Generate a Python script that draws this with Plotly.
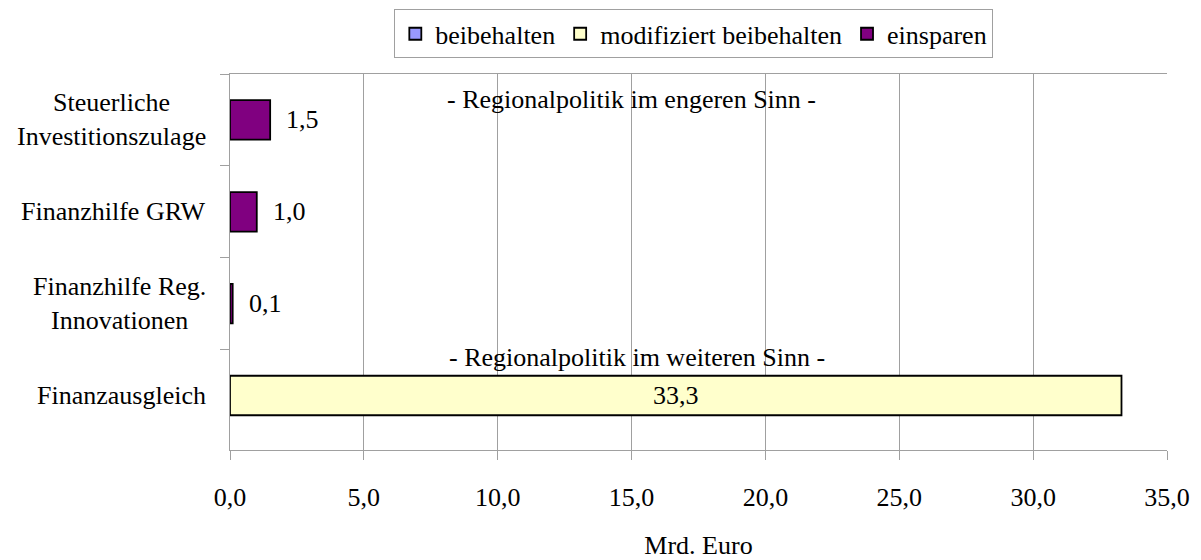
import plotly.graph_objects as go

categories = ["Steuerliche<br>Investitionszulage", "Finanzhilfe GRW",
              "Finanzhilfe Reg.<br>Innovationen", "Finanzausgleich"]
beibehalten = [None, None, None, None]
modifiziert = [None, None, None, 33.3]
einsparen = [1.5, 1.0, 0.1, None]
x_ticks = [0, 5, 10, 15, 20, 25, 30, 35]
section_labels = ["- Regionalpolitik im engeren Sinn -", "- Regionalpolitik im weiteren Sinn -"]

FONT = "Liberation Serif"
FS = 26
GRID = "#a0a0a0"


def fmt(v):
    return f"{v:.1f}".replace(".", ",")


fig = go.Figure()
series = [("beibehalten", beibehalten, "#9999FF"),
          ("modifiziert beibehalten", modifiziert, "#FFFFCC"),
          ("einsparen", einsparen, "#800080")]
for name, vals, col in series:
    fig.add_trace(go.Bar(
        y=categories, x=vals, name=name, orientation="h", width=0.43,
        marker=dict(color=col, line=dict(color="black", width=1.8)),
        hoverinfo="skip",
    ))

annotations = []
# category labels (right-aligned block, centered lines)
for c in categories:
    annotations.append(dict(
        xref="paper", yref="y", x=0, y=c, xanchor="right", yanchor="middle",
        xshift=-22, text=c, showarrow=False, align="center",
        font=dict(family=FONT, size=FS, color="black")))

# value labels
for name, vals, col in series:
    for c, v in zip(categories, vals):
        if v is None:
            continue
        if v > 10:
            annotations.append(dict(
                xref="x", yref="y", x=v / 2, y=c, xanchor="center", yanchor="middle",
                text=fmt(v), showarrow=False,
                font=dict(family=FONT, size=FS, color="black")))
        else:
            annotations.append(dict(
                xref="x", yref="y", x=v, y=c, xanchor="left", yanchor="middle",
                xshift=14, text=fmt(v), showarrow=False,
                font=dict(family=FONT, size=FS, color="black")))

# section labels
annotations.append(dict(xref="x", yref="y", x=15.0, y=categories[0], yshift=20,
                        text=section_labels[0], showarrow=False,
                        font=dict(family=FONT, size=FS, color="black")))
annotations.append(dict(xref="x", yref="y", x=15.2, y=categories[3], yshift=38,
                        text=section_labels[1], showarrow=False,
                        font=dict(family=FONT, size=FS, color="black")))

fig.update_layout(
    width=1193, height=552,
    margin=dict(l=222, r=34, t=66, b=110, autoexpand=False),
    paper_bgcolor="white", plot_bgcolor="white",
    barmode="overlay",
    separators=",.",
    font=dict(family=FONT, size=FS, color="black"),
    showlegend=True,
    legend=dict(orientation="h", x=0.495, xanchor="center", y=1.172, yanchor="top",
                bgcolor="white", bordercolor=GRID, borderwidth=1,
                font=dict(family=FONT, size=FS, color="black"),
                traceorder="normal", itemclick=False),
    annotations=annotations,
)
fig.update_xaxes(
    range=[0, 35], tickvals=x_ticks, ticktext=[fmt(t) for t in x_ticks],
    showgrid=True, gridcolor=GRID, gridwidth=1, zeroline=False,
    showline=True, linecolor=GRID, linewidth=1, mirror=True, automargin=False,
    ticks="outside", ticklen=9, tickcolor=GRID, ticklabelstandoff=15,
    tickfont=dict(family=FONT, size=FS, color="black"),
    title=dict(text="Mrd. Euro", standoff=40, font=dict(family=FONT, size=FS, color="black")),
)
fig.update_yaxes(
    autorange="reversed", showgrid=False, zeroline=False, automargin=False,
    showline=True, linecolor=GRID, linewidth=1,
    tickson="boundaries", ticks="outside", ticklen=9, tickcolor=GRID,
    showticklabels=False,
)
fig.write_html("out.html")
